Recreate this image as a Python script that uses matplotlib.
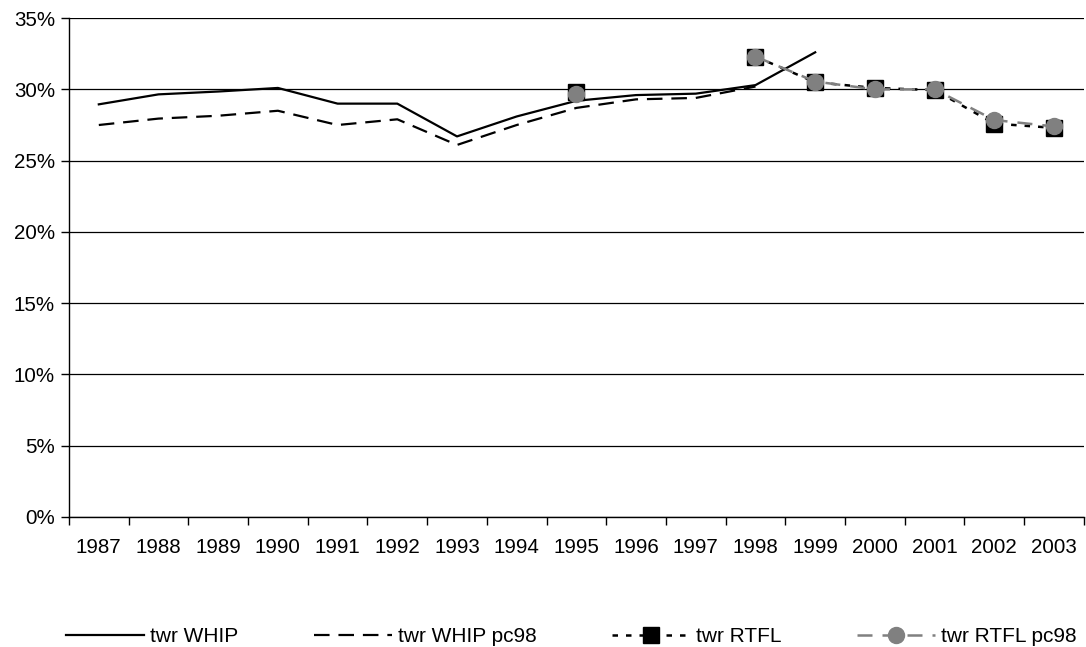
import numpy as np
import matplotlib
matplotlib.use("Agg")
import matplotlib.pyplot as plt
from matplotlib.ticker import FixedLocator, PercentFormatter

years = ["1987", "1988", "1989", "1990", "1991", "1992", "1993", "1994", "1995",
         "1996", "1997", "1998", "1999", "2000", "2001", "2002", "2003"]
nan = np.nan
twr_whip = [28.95, 29.65, 29.85, 30.1, 29.0, 29.0, 26.7, 28.1, 29.2, 29.6, 29.7, 30.3, 32.6,
            nan, nan, nan, nan]
twr_whip_pc98 = [27.5, 27.95, 28.15, 28.5, 27.5, 27.9, 26.1, 27.5, 28.7, 29.3, 29.4, 30.2, nan,
                 nan, nan, nan, nan]
twr_rtfl = [nan, nan, nan, nan, nan, nan, nan, nan, 29.85, nan, nan, 32.3, 30.5,
            30.1, 29.95, 27.6, 27.3]
twr_rtfl_pc98 = [nan, nan, nan, nan, nan, nan, nan, nan, 29.7, nan, nan, 32.3, 30.55,
                 30.0, 30.0, 27.85, 27.4]
labels = ["twr WHIP", "twr WHIP pc98", "twr RTFL", "twr RTFL pc98"]
yticks = [0, 5, 10, 15, 20, 25, 30, 35]

plt.rcParams['font.family'] = ['Liberation Sans', 'DejaVu Sans']
fig = plt.figure(figsize=(10.86, 6.47), dpi=100)
ax = fig.add_axes([0.0635, 0.201, 0.9345, 0.771])

x = np.arange(len(years))

l1, = ax.plot(x, twr_whip, color='black', lw=1.6, label=labels[0], zorder=3)
l2, = ax.plot(x, twr_whip_pc98, color='black', lw=1.6, label=labels[1], zorder=3)
l2.set_dashes([7, 4])
l3, = ax.plot(x, twr_rtfl, color='black', lw=1.8, ls=(0, (2.2, 3.2)), marker='s',
              markersize=11.5, markerfacecolor='black', markeredgecolor='black',
              label=labels[2], zorder=4)
l4, = ax.plot(x, twr_rtfl_pc98, color='#808080', lw=1.8, marker='o',
              markersize=11.5, markerfacecolor='#808080', markeredgecolor='#808080',
              label=labels[3], zorder=5)
l4.set_dashes([6, 4])

ax.set_xlim(-0.5, len(years) - 0.5)
ax.set_ylim(0, 35)
ax.set_yticks(yticks)
ax.yaxis.set_major_formatter(PercentFormatter(decimals=0))
ax.set_xticks(x)
ax.set_xticklabels(years)
ax.xaxis.set_minor_locator(FixedLocator(np.arange(-0.5, len(years), 1.0)))
ax.tick_params(axis='x', which='major', length=0, pad=15, labelsize=14.8)
ax.tick_params(axis='x', which='minor', length=6, width=1, direction='out')
ax.tick_params(axis='y', which='major', length=6, width=1, direction='out', labelsize=14.8, pad=4)

ax.grid(axis='y', color='black', lw=0.9)
ax.set_axisbelow(True)
for s in ['top', 'right']:
    ax.spines[s].set_visible(False)
for s in ['left', 'bottom']:
    ax.spines[s].set_color('black')
    ax.spines[s].set_linewidth(1.0)

fig.legend(handles=[l1, l2, l3, l4], labels=labels, loc='center', bbox_to_anchor=(0.526, 0.016),
           ncol=4, frameon=False, fontsize=15, handlelength=3.75, handletextpad=0.3,
           columnspacing=3.6, borderpad=0, borderaxespad=0)

fig.savefig("out.png", dpi=100)
